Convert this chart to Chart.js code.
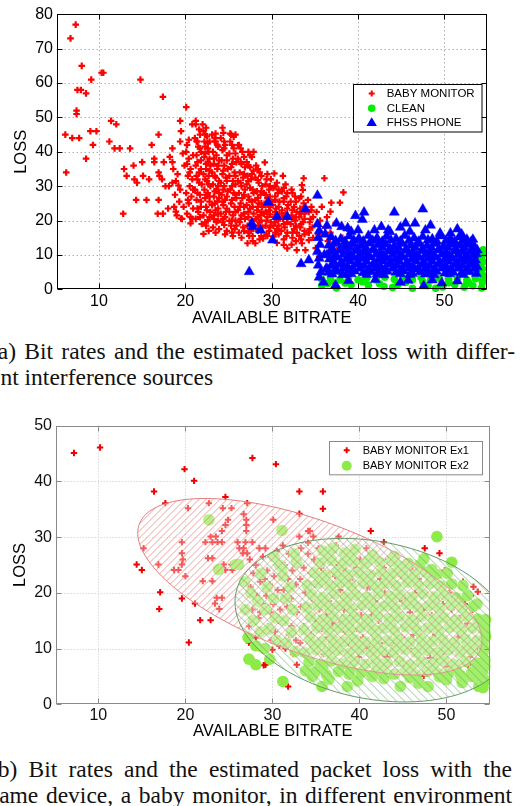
<!DOCTYPE html>
<html>
<head>
<meta charset="utf-8">
<script src="https://cdn.jsdelivr.net/npm/chart.js@4.4.1/dist/chart.umd.min.js"></script>
<style>
body{margin:0;background:#fff;width:520px;height:806px;overflow:hidden;position:relative}
canvas{position:absolute;left:0}
#chartA{top:0}
#chartB{top:410px}
.cap{position:absolute;font-family:"Liberation Serif","Times New Roman",serif;font-size:23.5px;line-height:23.5px;color:#111;white-space:nowrap}
.just{white-space:normal;text-align:justify;text-align-last:justify}
</style>
</head>
<body>
<canvas id="chartA" width="520" height="330"></canvas>
<canvas id="chartB" width="520" height="336"></canvas>
<div class="cap just" style="left:-10px;width:525px;top:340px">(a) Bit rates and the estimated packet loss with differ-</div>
<div class="cap" style="left:-10px;top:366px">ent interference sources</div>
<div class="cap just" style="left:-10px;width:522px;top:758px">(b) Bit rates and the estimated packet loss with the</div>
<div class="cap just" style="left:-10px;width:522px;top:784px">same device, a baby monitor, in different environment</div>
<script>
// ---- data ----
const xTicks = [10, 20, 30, 40, 50];
const yTicksA = [0, 10, 20, 30, 40, 50, 60, 70, 80];
const yTicksB = [0, 10, 20, 30, 40, 50];
const labelsA = ["BABY MONITOR", "CLEAN", "FHSS PHONE"];
const labelsB = ["BABY MONITOR Ex1", "BABY MONITOR Ex2"];

// (a) baby monitor interference
const babyMonitorA = [
 [7.3,77],[6.7,73],[8.0,65],[9.1,61],[10.3,63],[10.5,63],[14.8,61],[7.5,58],[7.9,58],[8.5,57],
 [7.4,52],[7.4,51],[17.4,56],[20.1,53],[11.4,49],[12.0,48],[6.1,45],[6.9,44],[7.7,44],[9.0,46],
 [9.7,46],[9.3,42],[11.2,43],[11.8,41],[12.4,41],[13.6,41],[16.1,42],[16.9,45],[19.4,49],[19.5,46],
 [20.2,42],[20.8,48],[21.2,48],[21.2,49],[22.0,48],[21.7,45],[22.3,45],[24.3,47],[25.3,45],[25.8,45],
 [21.3,43],[22.2,43],[21.7,41],[22.6,41],[23.4,43],[24.5,43],[18.5,41],[19.4,43],[23.5,45.3],[25.2,45.3],
 [25.6,44.4],[26.1,41.9],[27.9,40],[29.2,36.9],[30.3,33.7],[31.3,33],[33.7,32.3],[33.5,30.3],[33.6,28.9],[36.1,32.3],
 [38.3,28.2],[37.9,25.2],[36.9,25.2],[36.8,22.6],
 [8.5,38],[6.2,34],[12.9,35],[14.0,36],[15.0,37],[16.4,38],[16.4,37],[17.5,37],[13.2,33],[14.1,32],
 [14.4,31],[15.1,33],[15.8,32],[16.9,34],[17.0,33],[17.3,32],[17.7,30],[18.1,30],[18.5,37],[18.5,31],
 [14.3,26],[15.5,26],[16.9,26],[12.8,22],[16.8,22],[17.4,22],[18.0,23.5],[18.7,24],[18.9,22.6],[19.5,20.6],
 [20.6,19.2],[22.1,16.1],[23.2,18],[24.5,18.7],[25.1,19.9],
 [18.2,38.5],[18.6,35],[19.1,33.5],[18.9,31.5],[19.4,29],[18.8,27.5],[19.3,25.5],[19.8,24],[19.0,21.5],[19.6,20.5],[19.9,36],[19.7,39.5],[19.2,30.2],
 [20.1,40],[20.4,38],[20.2,36.5],[20.6,35],[20.3,33],[20.8,32],[20.5,30],[20.1,28],[20.7,27],[20.4,25],[20.9,23.5],[20.2,22],[20.6,21],
 [21.1,44],[21.5,41.5],[21.3,39],[21.8,37.5],[21.2,36],[21.6,34],[21.4,32],[21.9,30.5],[21.1,29],[21.7,27.5],[21.3,26],[21.8,24],[21.5,22.5],[21.2,20.5],[21.9,19],
 [22.1,46],[22.5,44.5],[22.8,43],[22.3,41.5],[22.7,40],[22.2,38.5],[22.6,37],[22.9,36],[22.4,35],[22.1,33.5],[22.7,33],[22.5,31.5],[22.9,30],[22.2,29],[22.6,28],[22.3,26.5],[22.8,25.5],[22.4,24],[22.9,22.5],[22.1,21.5],[22.6,20],[22.4,18.5],
 [23.1,45],[23.5,43],[23.8,41.5],[23.2,40],[23.6,39],[23.9,37.5],[23.3,36.5],[23.7,35],[23.1,34],[23.5,32.5],[23.9,31.5],[23.2,30.5],[23.6,29],[23.9,28],[23.3,27],[23.7,25.5],[23.1,24.5],[23.5,23],[23.8,22],[23.3,20.5],[23.6,19.5],[23.9,17.5],
 [24.1,44],[24.6,42],[24.3,40.5],[24.8,39],[24.2,37.5],[24.5,36],[24.9,35],[24.3,33.5],[24.7,32.5],[24.1,31],[24.5,30],[24.9,28.5],[24.2,27.5],[24.6,26],[24.4,24.5],[24.8,23.5],[24.1,22],[24.6,21],[24.3,19.5],[24.8,17],
 [25.2,43],[25.6,41],[25.1,39.5],[25.5,38],[25.9,37],[25.3,35.5],[25.7,34],[25.1,33],[25.5,31.5],[25.8,30.5],[25.2,29],[25.6,28],[25.9,26.5],[25.3,25],[25.7,24],[25.1,22.5],[25.5,21.5],[25.8,20],[25.3,18.5],[25.7,17.5],[25.5,15.5],
 [26.2,42],[26.6,40],[26.1,38],[26.5,36.5],[26.9,35.5],[26.3,34],[26.7,32.5],[26.1,31.5],[26.5,30],[26.9,29],[26.2,28],[26.6,26.5],[26.4,25],[26.8,24],[26.1,23],[26.5,21.5],[26.9,20.5],[26.3,19.5],[26.7,18],[26.2,16.5],
 [27.3,40],[27.7,38.5],[27.1,37],[27.5,35.5],[27.9,34.5],[27.2,33],[27.6,32],[27.1,30.5],[27.5,29.5],[27.9,28],[27.3,27],[27.7,25.5],[27.1,24.5],[27.5,23.5],[27.9,22],[27.3,21],[27.7,20],[27.2,18.5],[27.6,17],[27.4,15.5],[27.8,14],[27.2,13.4],
 [28.2,36],[28.6,34],[28.1,32.5],[28.5,31],[28.9,30],[28.3,28.5],[28.7,27.5],[28.1,26],[28.5,25],[28.9,24],[28.3,23],[28.7,21.5],[28.2,20.5],[28.6,19.5],[28.9,18],[28.4,17],[28.1,13.4],[28.8,15.5],
 [29.5,33.5],[29.9,32],[29.3,30.5],[29.7,29],[29.1,28],[29.5,26.5],[29.9,25.5],[29.3,24.5],[29.7,23],[29.1,22],[29.5,21],[29.9,19.5],[29.3,18.5],[29.7,17],[29.0,14.8],[29.4,16],
 [30.6,31],[30.2,29.5],[30.7,28],[30.4,27],[30.9,25.5],[30.1,24.5],[30.5,23.5],[30.9,22],[30.3,21],[30.7,20],[30.2,18.5],[30.6,17.5],[30.2,15.3],[30.8,16],
 [31.6,30.5],[31.2,28.5],[31.7,27],[31.4,25.5],[31.9,24.5],[31.2,23],[31.6,22],[31.3,20.5],[31.8,19.5],[31.5,18],[31.1,17],[31.4,12.9],[31.8,11.9],[31.7,15.5],
 [32.3,29],[32.7,27],[32.2,25.5],[32.6,24],[32.9,22.5],[32.3,21.5],[32.7,20],[32.2,19],[32.6,17.5],[32.9,16.5],[32.4,15],[32.9,11.4],
 [33.2,26.5],[33.7,25],[33.3,23.5],[33.8,22],[33.2,21],[33.6,19.5],[33.3,18],[33.8,17],[33.5,13.4],[33.9,11.4],[33.2,15.5],
 [34.2,26],[34.6,24],[34.3,22.5],[34.8,21],[34.4,19.5],[34.7,18],[34.3,16.5],[34.3,14.3],[34.8,15],
 [35.6,20],[36.2,18],[37.4,19.2],[35.4,16],[36.5,14],[37.8,12],[38.5,10],[37.0,9],[39.5,12],[41.0,11],
 [42.5,9],[35.2,22.5],[35.8,24],[36.4,21],[35.1,12],[35.5,9.5],[36.8,16.5],[38.2,15],[39.0,17],[40.2,14],
 [20.4,43.5],[20.9,39],[20.5,34],[20.9,29],[20.3,26],[20.8,20.5],
 [21.6,46.5],[21.4,43],[21.8,40],[21.4,37],[21.8,35],[21.3,33],[21.6,31],[21.4,28],[21.8,25.5],[21.4,23.5],[21.7,21],
 [22.4,47],[22.6,42.5],[22.3,39.5],[22.8,38],[22.4,36.5],[22.8,34.5],[22.3,32],[22.7,30.5],[22.4,27.5],[22.8,27],[22.5,23],[22.8,21],[22.3,19.5],[22.7,17],
 [23.4,44],[23.7,42],[23.3,38],[23.8,36],[23.4,33],[23.8,30],[23.4,28.5],[23.9,26.5],[23.4,25],[23.8,23.5],[23.3,21.5],[23.8,20],[23.5,16.5],
 [24.4,45.5],[24.5,41],[24.8,37.5],[24.4,34.5],[24.8,31.5],[24.4,29],[24.8,27],[24.3,25.5],[24.7,22.5],[24.4,20.5],[24.6,16],
 [25.4,42],[25.8,39.5],[25.4,36.5],[25.8,33],[25.4,30],[25.8,27.5],[25.4,26],[25.8,22.5],[25.4,20],[25.9,18.5],[25.4,16.5],
 [26.4,41],[26.8,38.5],[26.4,37],[26.8,33.5],[26.4,31],[26.8,27.5],[26.3,24],[26.8,22],[26.4,20.5],[26.8,17],[26.5,15],
 [27.5,39],[27.3,36],[27.7,33.5],[27.3,31.5],[27.8,29],[27.4,26],[27.8,24],[27.3,22.5],[27.8,18],[27.3,16.5],[27.8,15.5],
 [28.4,35],[28.8,33],[28.4,31.8],[28.8,28.5],[28.4,26.5],[28.8,25],[28.4,24],[28.8,22.5],[28.4,21],[28.8,20],[28.4,18.5],[28.6,14.5],
 [29.4,32],[29.8,30],[29.3,27.5],[29.8,27],[29.4,25.5],[29.8,24],[29.3,22.5],[29.8,21.8],[29.4,20],[29.8,18],[29.5,15.5],
 [30.4,30],[30.8,29],[30.4,26],[30.8,24],[30.4,22.5],[30.8,21],[30.4,19.5],[30.8,18.5],[30.4,16.5],[30.6,13.5],
 [31.4,29.5],[31.8,28],[31.4,26.5],[31.8,23.5],[31.4,21.5],[31.8,20.5],[31.4,19],[31.8,16.5],[31.4,14.5],
 [32.4,28],[32.8,25.5],[32.4,23],[32.8,21],[32.4,20.5],[32.8,18.5],[32.4,16.5],[32.8,14],[32.3,13],
 [33.4,27],[33.8,24],[33.4,22],[33.8,20.5],[33.4,19],[33.8,16],[33.4,14.5],[34.5,20.5],[34.6,23],[34.4,17.5]
];

// (a) FHSS phone interference
const fhssPhoneA = [
 [27.4,5.1],[29.6,25.3],[30.6,21.1],[31.8,21.1],[27.7,19.2],[27.8,18.2],[28.7,17.2],[30.1,14.3],[33.9,23.3],[35.3,27.3],
 [33.4,7.4],[34.3,8.5],[39.7,21.4],[40.7,22.4],[40.5,20.3],[44.2,22.4],[47.5,23.3],[45.5,19.2],[46.6,19.2],[37.5,19.2],
 [38.1,18.2],[42.7,18.2],[41.9,17.2],[43.5,17.2],[43.7,16.7],[47.8,17.2],[49.5,16.3],[50.7,16.3],[52.8,13.4],[53.8,11.4],
 [40.0,17.2],[36.4,18.5],[38.8,17.8],[44.9,18.0],[48.4,18.6],[51.5,17.5],[39.2,16.8],[46.0,16.8],[52.0,16.0],[53.3,14.5],
 [35.3,19],[35.5,17],[35.4,15],[35.6,13],[35.3,11],[35.5,9],[35.4,7],[35.7,5],[35.5,3.5],[36.0,2],[36.2,16],[36.1,10],[36.3,6],
 [36.9,15.2],[38.0,14.6],[39.0,15.5],[40.1,14.8],[41.2,15.6],[42.2,14.9],[43.3,15.4],[44.4,14.7],[45.4,15.6],[46.5,14.9],[47.5,15.3],[48.6,14.6],[49.6,15.5],[50.7,14.8],[51.7,15.2],[52.6,14.5],
 [36.6,12.8],[37.5,13.3],[38.5,12.6],[39.4,13.2],[40.4,12.7],[41.3,13.4],[42.3,12.9],[43.2,13.1],[44.2,12.6],[45.1,13.3],[46.1,12.8],[47.0,13.2],[48.0,12.7],[48.9,13.3],[49.9,12.6],[50.8,13.1],[51.8,12.8],[52.7,13.0],[53.5,12.4],
 [36.9,10.9],[37.9,11.3],[38.8,10.7],[39.8,11.2],[40.7,10.8],[41.7,11.4],[42.6,10.6],[43.6,11.1],[44.5,10.9],[45.5,11.3],[46.4,10.7],[47.4,11.2],[48.3,10.8],[49.3,11.4],[50.2,10.6],[51.2,11.1],[52.1,10.9],[53.0,11.0],[53.7,10.3],
 [36.7,8.8],[37.6,9.3],[38.6,8.7],[39.5,9.2],[40.5,8.9],[41.4,9.4],[42.4,8.6],[43.3,9.1],[44.3,8.8],[45.2,9.3],[46.2,8.7],[47.1,9.2],[48.1,8.9],[49.0,9.3],[50.0,8.6],[50.9,9.1],[51.9,8.8],[52.8,9.0],[53.6,8.5],
 [36.9,6.9],[37.9,7.2],[38.8,6.6],[39.8,7.3],[40.7,6.8],[41.7,7.1],[42.6,6.7],[43.6,7.3],[44.5,6.9],[45.5,7.2],[46.4,6.6],[47.4,7.1],[48.3,6.8],[49.3,7.3],[50.2,6.7],[51.2,7.1],[52.1,6.9],[53.0,7.2],[53.8,6.5],
 [36.6,4.9],[37.6,5.2],[38.7,4.6],[39.6,5.3],[40.6,4.8],[41.5,5.1],[42.5,4.7],[43.4,5.2],[44.4,4.9],[45.3,5.3],[46.3,4.6],[47.2,5.1],[48.2,4.8],[49.1,5.2],[50.1,4.7],[51.0,5.0],[52.0,4.8],[52.9,5.1],[53.7,4.6],
 [38.9,2.5],[42.0,2.8],[45.8,2.6],[47.6,1.0],[48.6,2.7],[51.5,2.4],[37.4,1.2],[44.9,2.0],[49.7,1.8],
 [37.4,14.1],[38.5,13.9],[39.5,14.3],[40.6,14.0],[41.7,14.2],[42.8,13.9],[43.8,14.3],[44.9,14.0],[45.9,14.2],[47.0,13.9],[48.1,14.3],[49.1,14.0],[50.2,14.2],[51.2,13.9],[52.2,14.1],[53.1,13.8],
 [37.0,12.0],[38.0,11.8],[39.0,12.2],[39.9,11.9],[40.9,12.1],[41.8,11.8],[42.8,12.2],[43.7,11.9],[44.7,12.1],[45.6,11.8],[46.6,12.2],[47.5,11.9],[48.5,12.1],[49.4,11.8],[50.4,12.2],[51.3,11.9],[52.3,12.1],[53.2,11.8],
 [36.4,10.0],[37.3,9.8],[38.3,10.2],[39.2,9.9],[40.2,10.1],[41.1,9.8],[42.1,10.2],[43.0,9.9],[44.0,10.1],[44.9,9.8],[45.9,10.2],[46.8,9.9],[47.8,10.1],[48.7,9.8],[49.7,10.2],[50.6,9.9],[51.6,10.1],[52.5,9.8],[53.4,10.0],
 [37.2,8.0],[38.1,7.8],[39.1,8.2],[40.0,7.9],[41.0,8.1],[41.9,7.8],[42.9,8.2],[43.8,7.9],[44.8,8.1],[45.7,7.8],[46.7,8.2],[47.6,7.9],[48.6,8.1],[49.5,7.8],[50.5,8.2],[51.4,7.9],[52.4,8.1],[53.3,7.8],
 [36.4,6.0],[37.4,5.8],[38.3,6.2],[39.3,5.9],[40.2,6.1],[41.2,5.8],[42.1,6.2],[43.1,5.9],[44.0,6.1],[45.0,5.8],[45.9,6.2],[46.9,5.9],[47.8,6.1],[48.8,5.8],[49.7,6.2],[50.7,5.9],[51.6,6.1],[52.6,5.8],[53.5,6.0],
 [37.0,4.4],[38.2,4.2],[39.2,4.5],[41.0,4.3],[42.2,4.4],[43.0,4.2],[44.9,4.5],[46.0,4.3],[47.8,4.4],[48.8,4.2],[50.6,4.5],[52.2,4.3]
];

// (a) clean channel
const cleanA = [
 [35.8,2.9],[36.8,3.3],[37.9,2.7],[38.9,3.4],[40.0,2.8],[41.0,3.2],[42.1,2.7],[43.1,3.5],[44.2,2.9],[45.2,3.3],
 [46.3,2.8],[47.3,3.4],[48.4,2.7],[49.4,3.2],[50.5,2.9],[51.5,3.4],[52.6,2.8],[53.6,3.1],[54.4,2.6],
 [35.8,1.1],[37.5,0.4],[39.2,1.3],[41.2,1.2],[43.0,0.8],[44.6,1.4],[46.3,0.3],[48.1,1.1],[49.8,0.7],[51.2,1.3],
 [52.3,0.6],[53.3,1.0],[54.3,0.4],[36.5,1.7],
 [38.5,1.8],[40.5,2.2],[42.5,1.6],[45.5,2.0],[47.5,2.2],[50.5,1.9],[52.6,1.7],[36.9,2.4],[44.0,0.5],[49.0,0.3],
 [54.4,2.0],[54.5,4.0],[54.4,6.0],[54.5,8.0],[54.4,10.0],[54.5,11.5],[53.6,3.5],[53.9,5.5],[54.0,7.5],[54.1,9.5],
 [53.5,11.0],[52.8,2.0],[53.2,6.5],
 [38.0,5.0],[42.0,6.0],[46.0,4.0],[50.0,6.0],[44.0,8.0],[48.0,7.0],[40.0,9.0],[52.0,8.0]
];

// (b) baby monitor, experiment 1
const babyMonitorEx1 = [
 [7.2,45.1],[10.2,46.1],[19.9,42.2],[21.0,40.1],[16.4,38.2],[17.7,36.1],[20.3,35.2],[22.7,36.1],[24.6,37.2],[27.1,36.1],
 [27.7,44.2],[30.4,43.1],[33.1,38.2],[35.8,38.2],[35.8,35.1],[33.1,34.2],[30.1,33.1],[34.3,31.1],[33.1,30.1],[41.3,31.1],
 [42.8,29.1],[47.5,28.0],[49.2,27.1],[50.5,22.0],[51.9,22.0],[53.1,21.1],[53.6,20.2],[48.1,23.0],[15.2,28.0],[14.4,25.1],
 [15.0,24.1],[16.9,25.1],[17.1,20.1],[17.0,17.1],[19.6,29.1],[19.6,27.1],[19.7,26.0],[19.6,25.1],[20.0,23.0],[19.6,19.0],
 [18.7,24.1],[19.2,24.1],[20.4,11.1],[21.7,15.1],[22.9,15.1],[21.1,18.1],[22.3,29.1],[23.1,29.1],[23.7,29.1],[24.2,29.1],
 [22.9,30.1],[23.5,30.1],[22.6,26.2],[23.1,26.2],[22.0,22.1],[23.1,22.1],[23.6,19.1],[24.2,19.1],[23.4,18.1],[23.9,17.1],
 [24.2,31.1],[24.6,32.2],[24.9,33.1],[24.3,35.2],[25.3,35.2],[24.6,24.1],[25.3,25.1],[24.4,25.1],[25.4,24.1],[26.0,29.1],
 [26.9,29.1],[27.7,29.1],[26.2,28.0],[26.7,28.0],[26.7,34.1],[27.0,33.1],[27.0,32.2],[27.0,31.1],[26.6,27.1],[27.1,27.1],
 [31.8,3.2],[29.2,7.1],[27.6,8.1],[32.8,7.1],[34.3,7.4],[37.6,30.1],[34.7,30.1],[34.1,31.1],[45.1,7.1],[50.0,6.8],
 [51.2,7.1],[52.5,7.1],[48.1,8.3],[48.9,8.5],[53.9,5.0],[54.0,7.1],[47.4,5.1],[27.3,11.1],[29.0,7.0],[28.5,10.1],
 [29.3,10.1],[30.0,9.8],
 [27.4,26],[28.1,25],[27.8,23.5],[28.6,22],[27.5,21],[28.2,19.5],[28.9,18],[27.7,17],[28.4,15.5],[27.3,14],[28.8,13],[28.1,12],[28.9,26.5],[28.5,28],[27.9,19.8],[28.6,16.5],
 [29.2,28],[29.8,26.5],[30.5,25],[29.4,24],[30.2,23],[29.7,21.5],[30.6,20.5],[29.3,19.5],[30.1,18],[29.8,16.5],[30.7,15],[29.5,14],[30.3,13],[29.9,11.5],[30.8,10.5],[30.5,27.5],[29.1,22.5],[30.9,17],
 [31.2,28.5],[31.9,27],[32.6,26],[31.4,25],[32.3,24],[31.8,22.5],[32.7,21.5],[31.3,20.5],[32.1,19],[31.7,17.5],[32.8,16.5],[31.4,15],[32.2,14],[31.9,12.5],[32.7,11.5],[31.5,10],[32.4,9],[32.9,25],
 [33.3,28],[34.1,27],[34.8,26],[33.6,24.5],[34.4,23.5],[33.2,22.5],[34.9,21.5],[33.8,20],[34.5,19],[33.3,17.5],[34.2,16.5],[34.9,15],[33.6,14],[34.4,12.5],[33.2,11],[34.7,10],[33.9,9],[34.1,29],
 [35.3,28],[36.1,27],[36.8,26],[35.6,24.5],[36.4,23.5],[35.2,22],[36.9,21],[35.8,19.5],[36.5,18.5],[35.4,17],[36.2,16],[36.9,14.5],[35.7,13.5],[36.4,12],[35.2,11],[36.7,10],[35.9,9],
 [37.3,28.5],[38.2,27.5],[38.8,26],[37.6,25],[38.4,24],[37.2,23],[38.9,22],[37.8,20.5],[38.5,19.5],[37.4,18],[38.2,17],[38.9,15.5],[37.7,14.5],[38.4,13],[37.2,12],[38.7,11],[37.9,9.5],
 [39.3,27],[40.1,26],[40.8,28],[39.6,24.5],[40.4,23],[39.2,22],[40.9,21],[39.8,19.5],[40.5,18.5],[39.4,17],[40.2,16],[40.9,14.5],[39.7,13.5],[40.4,12],[39.2,11],[40.7,10],[39.9,8.5],
 [41.3,27],[42.2,26],[42.8,24.5],[41.6,23.5],[42.4,22.5],[41.2,21],[42.9,20],[41.8,18.5],[42.5,17.5],[41.4,16],[42.2,15],[42.9,13.5],[41.7,12.5],[42.4,11],[41.2,10],[42.7,9],[41.9,8],
 [43.3,26],[44.1,25],[44.8,23],[43.6,22],[44.4,21],[43.2,19.5],[44.9,18.5],[43.8,17],[44.5,16],[43.4,14.5],[44.2,13.5],[44.9,12],[43.7,11],[44.4,9.5],[43.2,8.5],
 [45.3,25],[46.1,24],[46.8,22.5],[45.6,21.5],[46.4,20],[45.2,19],[46.9,17.5],[45.8,16.5],[46.5,15],[45.4,14],[46.2,12.5],[46.9,11.5],[45.7,10],[46.4,9],
 [47.3,24],[48.2,22],[49.1,21],[47.6,20],[48.5,19],[49.6,18],[47.4,17],[48.3,16],[49.2,15],[47.8,13.5],[48.7,12.5],[49.5,11],[47.5,10],[48.4,9.5],[49.4,9],[49.8,24],
 [50.3,20],[51.2,19],[52.1,18],[53.0,17],[50.6,17],[51.5,15.5],[52.4,14.5],[53.3,13.5],[50.4,14],[51.3,12],[52.2,11],[53.2,10],[50.8,10.5],[51.7,9],[52.7,8.5],[53.6,9.5],[53.8,15],[52.8,19.5]
];

// (b) baby monitor, experiment 2
const babyMonitorEx2 = [
 [22.7,33.1],[31.1,31.2],[48.9,30.1],[47.4,26.1],[48.3,24.2],[26.1,25.1],[23.8,24.2],[25.8,25.1],[27.3,8.1],[28.1,7.1],
 [31.2,4.1],[35.7,3.2],[38.6,3.2],[44.7,3.2],[47.9,3.2],[50.0,4.4],[53.7,3.2],[29.7,8.1],[54.2,3.0],[54.3,4.5],
 [32.5,27],[30.2,26.5],
 [26.8,22],[27.5,20],[28.3,18.5],[26.9,17],[27.8,15],[28.6,13],[27.2,12],[28.1,10.5],[29.4,21],[30.1,19],
 [29.2,17],[30.3,15.5],[29.6,13.5],[30.5,11.5],[29.1,10],[31.2,23],[32.0,21],[31.5,19],[32.3,17],[31.3,15],
 [32.2,13],[31.6,11],[32.6,9.5],[31.1,24.5],[28.7,23.5],[30.8,25],[32.8,25.5],
 [35.8,27.5],[37.0,28],[38.3,27.2],[39.5,27.8],[41.5,26.8],[44.0,26.5],[36.5,26.5],
 [36.5,4.5],[39.8,4.2],[41.5,5.0],[42.8,4.6],[45.8,4.8],[46.8,3.8],[49.2,4.9],[51.8,3.9],[52.8,5.0],[53.6,4.8],[34.6,5.0],[33.8,6.0],
 [54.4,13],[54.5,15.2],[54.3,4.0],
 [34.9,5.8],[36.2,5.3],[37.6,5.9],[38.8,5.4],[40.2,5.7],[41.4,5.2],[42.7,5.9],[44.0,5.4],[45.3,5.8],[46.5,5.3],[47.8,5.9],[49.1,5.5],[50.3,5.7],[51.6,5.2],[52.9,5.8],[54.1,5.6],
 [34.2,7.6],[35.5,7.2],[36.8,7.8],[38.1,7.3],[39.4,7.7],[40.7,7.2],[41.9,7.8],[43.2,7.4],[44.6,7.7],[45.8,7.1],[47.1,7.6],[48.4,7.3],[49.7,7.8],[50.9,7.2],[52.2,7.7],[53.5,7.4],[54.4,7.9],
 [33.7,9.3],[35.0,9.8],[36.3,9.4],[37.5,9.7],[38.8,9.2],[40.1,9.8],[41.4,9.3],[42.6,9.6],[43.9,9.4],[45.2,9.9],[46.5,9.3],[47.8,9.7],[49.0,9.2],[50.3,9.8],[51.6,9.4],[52.9,9.6],[54.2,9.3],
 [34.3,11.7],[35.6,11.2],[36.9,11.8],[38.2,11.3],[39.4,11.6],[40.7,11.2],[42.0,11.8],[43.3,11.4],[44.5,11.7],[45.8,11.2],[47.1,11.8],[48.4,11.3],[49.6,11.6],[50.9,11.1],[52.2,11.7],[53.5,11.4],[54.4,11.9],
 [33.6,13.4],[35.1,13.8],[36.4,13.3],[37.6,13.7],[38.9,13.2],[40.2,13.8],[41.5,13.4],[42.7,13.6],[44.0,13.3],[45.3,13.9],[46.6,13.4],[47.9,13.7],[49.1,13.2],[50.4,13.8],[51.7,13.3],[53.0,13.7],[54.2,13.5],
 [34.4,15.7],[35.7,15.2],[37.0,15.8],[38.3,15.3],[39.5,15.6],[40.8,15.2],[42.1,15.8],[43.4,15.4],[44.6,15.7],[45.9,15.2],[47.2,15.8],[48.5,15.3],[49.7,15.6],[51.0,15.1],[52.3,15.7],[53.6,15.3],
 [33.9,17.4],[35.2,17.8],[36.5,17.3],[37.7,17.7],[39.0,17.2],[40.3,17.8],[41.6,17.4],[42.8,17.6],[44.1,17.3],[45.4,17.9],[46.7,17.4],[48.0,17.7],[49.2,17.2],[50.5,17.8],[51.8,17.3],[53.1,17.6],
 [34.5,19.7],[35.8,19.2],[37.1,19.8],[38.4,19.3],[39.6,19.6],[40.9,19.2],[42.2,19.8],[43.5,19.4],[44.7,19.7],[46.0,19.2],[47.3,19.8],[48.6,19.3],[49.8,19.6],[51.1,19.1],[52.4,19.5],
 [34.0,21.4],[35.3,21.8],[36.6,21.3],[37.8,21.7],[39.1,21.2],[40.4,21.8],[41.7,21.4],[42.9,21.6],[44.2,21.3],[45.5,21.9],[46.8,21.4],[48.1,21.7],[49.3,21.2],[50.6,21.6],[51.9,21.3],
 [34.8,23.6],[36.1,23.2],[37.4,23.8],[38.7,23.3],[39.9,23.6],[41.2,23.2],[42.5,23.7],[43.8,23.4],[45.0,23.6],[46.3,23.2],[47.6,23.7],[48.9,23.3],[50.1,23.5],
 [35.5,25.4],[36.8,25.8],[38.1,25.3],[39.3,25.6],[40.6,25.2],[42.3,25.5],[43.7,25.7],[45.6,25.3],[46.9,25.0],[50.6,25.5],
 [35.8,6.6],[39.0,6.4],[42.1,6.7],[45.9,6.5],[48.5,6.8],[51.1,6.4],[53.9,6.6],
 [34.8,10.6],[37.0,10.4],[39.5,10.7],[41.9,10.5],[44.5,10.3],[47.2,10.6],[49.8,10.5],[52.4,10.4],[54.2,10.8],
 [36.1,14.6],[38.8,14.4],[41.0,14.7],[43.6,14.5],[46.2,14.4],[48.8,14.7],[51.2,14.5],[53.8,14.3],
 [36.0,18.6],[38.5,18.4],[41.2,18.7],[43.7,18.5],[46.1,18.3],[48.6,18.6],[51.4,18.4],[53.5,18.0],
 [35.6,22.6],[38.2,22.4],[40.9,22.7],[43.2,22.5],[45.9,22.4],[48.3,22.6],
 [38.9,26.5],[41.0,25.8],[44.6,24.8],[54.4,6.8],[54.3,9.9],[54.5,12.2],[54.4,14.1]
];

// spread ellipses of panel (b): centre and two conjugate semi-axis end points
const ellipseEx1 = {c: [34.3, 21.1], u: [53.9, 9.9], v: [31.7, 9.9]};
const ellipseEx2 = {c: [41.6, 15.1], u: [57.5, 11.8], v: [41.6, 0.8]};

// ---- drawing ----
Chart.defaults.font.family = "'Liberation Sans', Arial, Helvetica, sans-serif";
Chart.defaults.color = "#000";

const pts = arr => arr.map(p => ({x: p[0], y: p[1]}));

function plusMark(ctx, x, y, r, w, col) {
  ctx.strokeStyle = col; ctx.lineWidth = w; ctx.beginPath();
  ctx.moveTo(x - r, y); ctx.lineTo(x + r, y);
  ctx.moveTo(x, y - r); ctx.lineTo(x, y + r);
  ctx.stroke();
}
function dotMark(ctx, x, y, r, col) {
  ctx.fillStyle = col; ctx.beginPath(); ctx.arc(x, y, r, 0, Math.PI * 2); ctx.fill();
}
function triMark(ctx, x, y, r, col) {
  ctx.fillStyle = col; ctx.beginPath();
  ctx.moveTo(x, y - r); ctx.lineTo(x + r * 0.95, y + r * 0.6); ctx.lineTo(x - r * 0.95, y + r * 0.6);
  ctx.closePath(); ctx.fill();
}

// dotted grid under the points, box + inward ticks over them
const framePlugin = {
  id: "frame",
  beforeDatasetsDraw(chart, args, o) {
    const {ctx, chartArea: a, scales: {x, y}} = chart;
    ctx.save();
    ctx.strokeStyle = o.grid; ctx.lineWidth = 1; ctx.setLineDash(o.dash);
    ctx.beginPath();
    x.ticks.forEach(t => { const px = Math.round(x.getPixelForValue(t.value)) + 0.5; ctx.moveTo(px, a.top); ctx.lineTo(px, a.bottom); });
    y.ticks.forEach(t => {
      if (t.value === y.min || t.value === y.max) return;
      const py = Math.round(y.getPixelForValue(t.value)) + 0.5; ctx.moveTo(a.left, py); ctx.lineTo(a.right, py);
    });
    ctx.stroke();
    ctx.restore();
  },
  afterDatasetsDraw(chart, args, o) {
    const {ctx, chartArea: a, scales: {x, y}} = chart;
    if (o.ellipses) o.ellipses.forEach(e => drawHatchEllipse(chart, e));
    ctx.save();
    ctx.strokeStyle = o.box; ctx.lineWidth = 1;
    const l = Math.round(a.left) + 0.5, r = Math.round(a.right) - 0.5, t = Math.round(a.top) + 0.5, b = Math.round(a.bottom) - 0.5;
    ctx.strokeRect(l, t, r - l, b - t);
    ctx.beginPath();
    x.ticks.forEach(tk => { const px = Math.round(x.getPixelForValue(tk.value)) + 0.5; ctx.moveTo(px, b); ctx.lineTo(px, b - 5); ctx.moveTo(px, t); ctx.lineTo(px, t + 5); });
    y.ticks.forEach(tk => { const py = Math.round(y.getPixelForValue(tk.value)) + 0.5; ctx.moveTo(l, py); ctx.lineTo(l + 5, py); ctx.moveTo(r, py); ctx.lineTo(r - 5, py); });
    ctx.stroke();
    ctx.restore();
  },
  afterDraw(chart, args, o) {
    const ctx = chart.ctx, L = o.legend;
    ctx.save();
    ctx.fillStyle = "#fff"; ctx.fillRect(L.x, L.y, L.w, L.h);
    ctx.strokeStyle = L.border; ctx.lineWidth = 1;
    ctx.strokeRect(Math.round(L.x) + 0.5, Math.round(L.y) + 0.5, L.w, L.h);
    ctx.font = L.font; ctx.textBaseline = "middle";
    L.items.forEach((it, i) => {
      const yy = L.rows[i];
      if (it.mark === "plus") plusMark(ctx, L.mx, yy, it.r, 2, it.color);
      if (it.mark === "dot") dotMark(ctx, L.mx, yy, it.r, it.color);
      if (it.mark === "tri") triMark(ctx, L.mx, yy, it.r, it.color);
      ctx.fillStyle = "#000"; ctx.fillText(it.text, L.tx, yy + 0.5);
    });
    ctx.restore();
  }
};

function ellipsePath(chart, e) {
  const {ctx, scales: {x, y}} = chart;
  const cx = x.getPixelForValue(e.c[0]), cy = y.getPixelForValue(e.c[1]);
  const ux = x.getPixelForValue(e.u[0]) - cx, uy = y.getPixelForValue(e.u[1]) - cy;
  const vx = x.getPixelForValue(e.v[0]) - cx, vy = y.getPixelForValue(e.v[1]) - cy;
  ctx.beginPath();
  for (let i = 0; i <= 180; i++) {
    const t = i / 180 * Math.PI * 2;
    const px = cx + ux * Math.cos(t) + vx * Math.sin(t), py = cy + uy * Math.cos(t) + vy * Math.sin(t);
    if (i === 0) ctx.moveTo(px, py); else ctx.lineTo(px, py);
  }
  ctx.closePath();
}

function drawHatchEllipse(chart, e) {
  const {ctx, chartArea: a} = chart;
  ctx.save();
  ctx.beginPath(); ctx.rect(a.left, a.top, a.width, a.height); ctx.clip();
  ellipsePath(chart, e.shape);
  ctx.save();
  ctx.clip();
  ctx.fillStyle = e.veil; ctx.fillRect(a.left, a.top, a.width, a.height);
  ctx.strokeStyle = e.hatch; ctx.lineWidth = 0.8;
  ctx.beginPath();
  const h = a.height;
  for (let s = a.left - h; s < a.right + h; s += e.step) {
    if (e.dir > 0) { ctx.moveTo(s, a.bottom); ctx.lineTo(s + h, a.top); }
    else { ctx.moveTo(s, a.top); ctx.lineTo(s + h, a.bottom); }
  }
  ctx.stroke();
  ctx.restore();
  ellipsePath(chart, e.shape);
  ctx.strokeStyle = e.edge; ctx.lineWidth = 1; ctx.stroke();
  ctx.restore();
}

function makeChart(id, cfg) {
  return new Chart(document.getElementById(id), {
    type: "scatter",
    data: {datasets: cfg.datasets},
    options: {
      responsive: false, animation: false, events: [],
      layout: {padding: cfg.padding},
      plugins: {legend: {display: false}, tooltip: {enabled: false}, frame: cfg.frame},
      scales: {
        x: {
          type: "linear", min: 5.1, max: cfg.xmax,
          afterBuildTicks: s => { s.ticks = xTicks.map(v => ({value: v})); },
          afterFit: s => { s.height = cfg.xh; },
          grid: {display: false, drawTicks: false}, border: {display: false},
          ticks: {font: {size: 16}, color: cfg.tickColor, padding: cfg.xpad, maxRotation: 0, autoSkip: false},
          title: {display: true, text: "AVAILABLE BITRATE", font: {size: 16.5}, color: "#000", padding: {top: 0, bottom: cfg.xtitlePad}}
        },
        y: {
          type: "linear", min: 0, max: cfg.ymax,
          afterBuildTicks: s => { s.ticks = cfg.yTicks.map(v => ({value: v})); },
          afterFit: s => { s.width = cfg.yw; },
          grid: {display: false, drawTicks: false}, border: {display: false},
          ticks: {font: {size: 16}, color: cfg.tickColor, padding: 3.7, autoSkip: false},
          title: {display: true, text: "LOSS", font: {size: 16.5}, color: "#000", padding: {top: cfg.ytitlePad, bottom: 0}}
        }
      }
    },
    plugins: [framePlugin]
  });
}

makeChart("chartA", {
  padding: {left: 0, top: 14.3, right: 33.3, bottom: 0},
  xmax: 54.9, ymax: 80, yTicks: yTicksA, xh: 40.7, yw: 56.7, xpad: 2.8, xtitlePad: 2, ytitlePad: 12, tickColor: "#000",
  datasets: [
    {label: labelsA[0], order: 3, data: pts(babyMonitorA), pointStyle: "cross", pointRadius: 3.3, borderWidth: 2.2, borderColor: "#ff0000", backgroundColor: "#ff0000", clip: false},
    {label: labelsA[1], order: 2, data: pts(cleanA), pointStyle: "circle", pointRadius: 3.8, borderWidth: 0, backgroundColor: "#00ee00", borderColor: "#00ee00", clip: false},
    {label: labelsA[2], order: 1, data: pts(fhssPhoneA), pointStyle: "triangle", pointRadius: 5.8, borderWidth: 0.5, backgroundColor: "#0000ff", borderColor: "#0000ff", clip: false}
  ],
  frame: {
    grid: "#8a8a8a", dash: [1, 3], box: "#000",
    legend: {x: 353, y: 84, w: 128.5, h: 47.5, border: "#000", font: "11.5px 'Liberation Sans', Arial, sans-serif",
      mx: 371.7, tx: 386.7, rows: [93.5, 108.3, 122.7],
      items: [
        {text: labelsA[0], mark: "plus", r: 3, color: "#ff0000"},
        {text: labelsA[1], mark: "dot", r: 3.8, color: "#00ee00"},
        {text: labelsA[2], mark: "tri", r: 5.5, color: "#0000ff"}
      ]}
  }
});

makeChart("chartB", {
  padding: {left: 0, top: 15.7, right: 30, bottom: 0},
  xmax: 55, ymax: 50, yTicks: yTicksB, xh: 336 - 294.3, yw: 55.7, xpad: 1.2, xtitlePad: 4.4, ytitlePad: 11, tickColor: "#111",
  datasets: [
    {label: labelsB[0], order: 2, data: pts(babyMonitorEx1), pointStyle: "cross", pointRadius: 3.2, borderWidth: 2, borderColor: "#f00000", backgroundColor: "#f00000", clip: false},
    {label: labelsB[1], order: 1, data: pts(babyMonitorEx2), pointStyle: "circle", pointRadius: 5.8, borderWidth: 0, backgroundColor: "#8ceb46", borderColor: "#8ceb46", clip: false}
  ],
  frame: {
    grid: "#c8c8c8", dash: [1, 2], box: "#8a8a8a",
    ellipses: [
      {shape: ellipseEx1, veil: "rgba(255,255,255,0.35)", hatch: "rgba(225,95,95,0.75)", edge: "#e47c7c", step: 7, dir: 1},
      {shape: ellipseEx2, veil: "rgba(255,255,255,0.2)", hatch: "rgba(95,170,95,0.8)", edge: "#5f9a66", step: 8, dir: -1}
    ],
    legend: {x: 329, y: 440.7 - 410, w: 153, h: 33.3, border: "#8a8a8a", font: "11px 'Liberation Sans', Arial, sans-serif",
      mx: 346.7, tx: 362.7, rows: [450.3 - 410, 465.7 - 410],
      items: [
        {text: labelsB[0], mark: "plus", r: 3, color: "#f00000"},
        {text: labelsB[1], mark: "dot", r: 5, color: "#8ceb46"}
      ]}
  }
});
</script>
</body>
</html>
